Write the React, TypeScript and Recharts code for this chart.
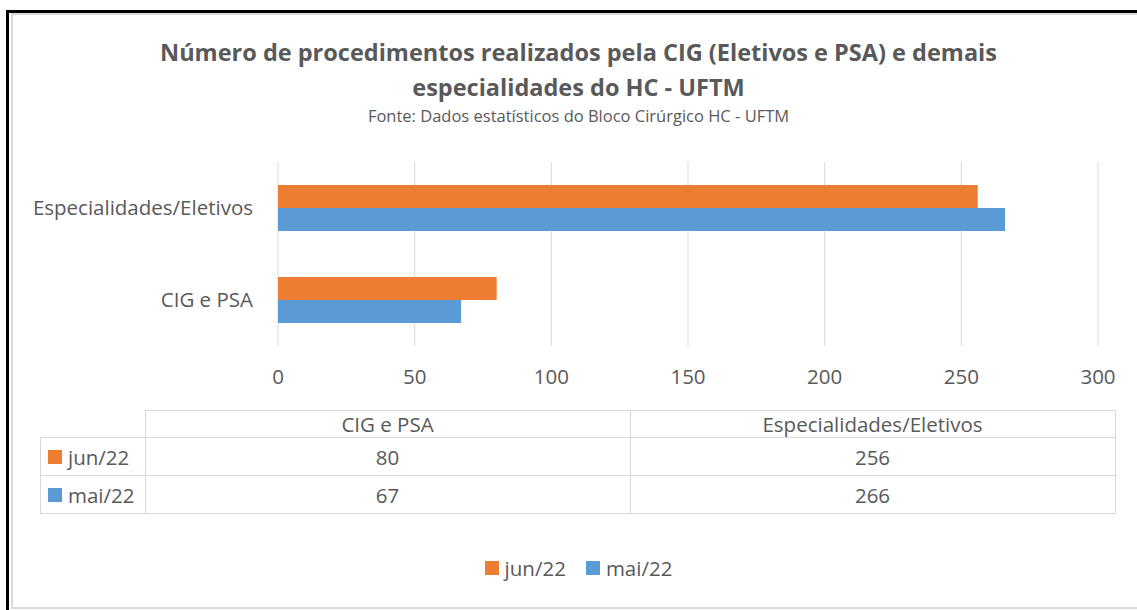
import React from 'react';
import {
  BarChart,
  Bar,
  XAxis,
  YAxis,
  CartesianGrid,
} from 'recharts';

const categories = ['CIG e PSA', 'Especialidades/Eletivos'];
const jun22 = [80, 256];
const mai22 = [67, 266];
const xTicks = [0, 50, 100, 150, 200, 250, 300];

const SERIES = [
  { key: 'jun22', name: 'jun/22', color: '#ED7D31', values: jun22 },
  { key: 'mai22', name: 'mai/22', color: '#5B9BD5', values: mai22 },
];

const FONT = '"Open Sans", sans-serif';
const TEXT = '#595959';
const GRID = '#d9d9d9';

// Excel draws the category axis reversed, so the last category sits on top
const chartData = categories
  .map((cat, i) => ({ name: cat, jun22: jun22[i], mai22: mai22[i] }))
  .reverse();

const cell: React.CSSProperties = {
  border: `1px solid ${GRID}`,
  textAlign: 'center',
  padding: 0,
  fontWeight: 'normal',
  lineHeight: '20px',
};

export default function App() {
  return (
    <div style={{ position: 'absolute', left: 0, top: 0, width: 1137, height: 610, overflow: 'hidden', background: '#fff', fontFamily: FONT, color: TEXT }}>
      <div style={{ position: 'absolute', left: 6, top: 10, width: 1200, height: 700, borderLeft: '3px solid #000', borderTop: '3px solid #000' }} />
      <div style={{ position: 'absolute', left: 11, top: 13, width: 1200, height: 592, border: `2px solid ${GRID}` }} />

      <div style={{ position: 'absolute', left: 0, top: 35, width: 1157, textAlign: 'center', fontWeight: 700, fontSize: 23.5, lineHeight: '35px' }}>
        Número de procedimentos realizados pela CIG (Eletivos e PSA) e demais
        <br />
        especialidades do HC - UFTM
      </div>
      <div style={{ position: 'absolute', left: 0, top: 104, width: 1157, textAlign: 'center', fontSize: 16.5, lineHeight: '24px' }}>
        Fonte: Dados estatísticos do Bloco Cirúrgico HC - UFTM
      </div>

      <div style={{ position: 'absolute', left: 0, top: 0 }}>
        <BarChart
          width={1137}
          height={600}
          data={chartData}
          layout="vertical"
          margin={{ top: 162, right: 39, bottom: 214, left: 0 }}
          barCategoryGap="25%"
          barGap={0}
        >
          <CartesianGrid horizontal={false} stroke={GRID} />
          <XAxis
            type="number"
            domain={[0, 300]}
            ticks={xTicks}
            axisLine={false}
            tickLine={false}
            tickSize={0}
            tickMargin={23}
            height={40}
            tick={{ fill: TEXT, fontSize: 20.5, fontFamily: FONT }}
          />
          <YAxis
            type="category"
            dataKey="name"
            width={278}
            axisLine={false}
            tickLine={false}
            tickSize={0}
            tickMargin={25}
            tick={{ fill: TEXT, fontSize: 20.5, fontFamily: FONT }}
          />
          {SERIES.map((s) => (
            <Bar key={s.key} dataKey={s.key} name={s.name} fill={s.color} isAnimationActive={false} />
          ))}
        </BarChart>
      </div>

      <table
        style={{
          position: 'absolute',
          left: 40,
          top: 410,
          borderCollapse: 'collapse',
          fontSize: 20.5,
          color: TEXT,
          fontFamily: FONT,
        }}
      >
        <thead>
          <tr style={{ height: 27 }}>
            <th style={{ width: 104, padding: 0, border: 'none' }}></th>
            {categories.map((c) => (
              <th key={c} style={{ ...cell, width: 484 }}>{c}</th>
            ))}
          </tr>
        </thead>
        <tbody>
          {SERIES.map((s) => (
            <tr key={s.key} style={{ height: 38 }}>
              <td style={{ ...cell, textAlign: 'left', paddingLeft: 7 }}>
                <span style={{ display: 'inline-flex', alignItems: 'center', gap: 6 }}>
                  <span style={{ width: 14, height: 14, background: s.color, display: 'inline-block' }}></span>
                  {s.name}
                </span>
              </td>
              {s.values.map((v, i) => (
                <td key={categories[i]} style={cell}>{v}</td>
              ))}
            </tr>
          ))}
        </tbody>
      </table>

      <div style={{ position: 'absolute', left: 0, top: 555, width: 1157, display: 'flex', justifyContent: 'center', gap: 20, fontSize: 20.5, lineHeight: '26px' }}>
        {SERIES.map((s) => (
          <span key={s.key} style={{ display: 'flex', alignItems: 'center', gap: 6 }}>
            <span style={{ width: 14, height: 14, background: s.color, display: 'inline-block' }}></span>
            {s.name}
          </span>
        ))}
      </div>
    </div>
  );
}
